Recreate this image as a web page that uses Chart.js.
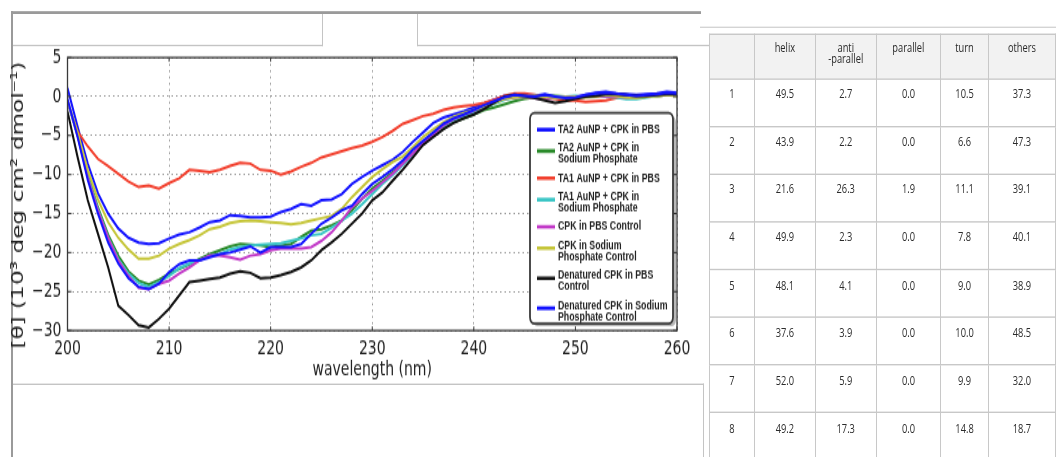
<!DOCTYPE html>
<html>
<head>
<meta charset="utf-8">
<script src="https://cdn.jsdelivr.net/npm/chart.js@4/dist/chart.umd.min.js"></script>
<style>
  html, body { margin: 0; padding: 0; background: #fff; width: 1056px; height: 457px; }
  #wrap { position: relative; width: 1056px; height: 457px; overflow: hidden; }
  /* the source picture is stretched vertically, so the page is laid out flat and scaled */
  #page { position: absolute; left: 0; top: 0; width: 1056px; height: 326.4px;
          transform: scaleY(1.4); transform-origin: 0 0; }
  .ln { position: absolute; }
  #chartBox { position: absolute; left: 0; top: 0; width: 705px; height: 274px; }
  #ss { position: absolute; left: 709px; top: 23.6px; border-collapse: collapse; table-layout: fixed;
        font: 9.3px "Open Sans", Lato, sans-serif; color: #2c2c2c; }
  #ss td { border: 1px solid #c8c8c8; text-align: center; vertical-align: top; padding: 6.5px 0 0 0;
           height: 26.6px; line-height: 8px; }
  #ss tr.hd td { background: #f2f2f2; padding-top: 5px; height: 26.1px; color: #2a2a2a; }
</style>
</head>
<body>
<div id="wrap">
<div id="page">
  <div class="ln" style="left:11px;top:8px;width:690px;height:1.5px;background:#9a9a9a"></div>
  <div class="ln" style="left:11px;top:8px;width:2px;height:330px;background:#9a9a9a"></div>
  <div class="ln" style="left:13px;top:9.5px;width:309px;height:22.6px;border-right:1px solid #c4c4c4;border-bottom:1px solid #c4c4c4"></div>
  <div class="ln" style="left:417px;top:9.5px;width:292px;height:22.6px;border-left:1px solid #c4c4c4;border-bottom:1px solid #c4c4c4"></div>
  <div class="ln" style="left:700px;top:19.3px;width:356px;height:0.8px;background:#d4d4d4"></div>
  <div class="ln" style="left:13px;top:274.3px;width:690px;height:60px;border-top:1px solid #c4c4c4;border-right:1px solid #c4c4c4"></div>
  <div id="chartBox"><canvas id="cd"></canvas></div>
  <table id="ss"></table>
</div>
</div>
<script>
const wavelength = [200,201,202,203,204,205,206,207,208,209,210,211,212,213,214,215,216,217,218,219,
  220,221,222,223,224,225,226,227,228,229,230,231,232,233,234,235,236,237,238,239,
  240,241,242,243,244,245,246,247,248,249,250,251,252,253,254,255,256,257,258,259,260];

const ta2Pbs = [1.1,-3.9,-8.6,-12.4,-15.0,-16.9,-18.1,-18.7,-18.9,-18.8,
  -18.2,-17.7,-17.4,-16.8,-16.1,-15.9,-15.2,-15.3,-15.5,-15.5,
  -15.4,-14.8,-14.4,-13.8,-14.0,-13.3,-13.2,-12.5,-11.2,-10.3,
  -9.5,-8.8,-8.1,-7.1,-5.8,-4.6,-3.4,-2.7,-2.3,-1.9,
  -1.4,-0.9,-0.4,0.1,0.1,0.0,0.1,0.3,0.0,-0.3,
  -0.2,0.2,0.5,0.6,0.4,0.3,0.2,0.3,0.4,0.6,0.5];
const ta2Na = [-0.6,-5.0,-10.0,-14.2,-17.7,-20.4,-22.4,-23.6,-24.1,-23.5,
  -22.7,-22.1,-21.5,-20.8,-20.2,-19.7,-19.2,-18.9,-19.0,-19.1,
  -19.3,-19.1,-18.9,-18.0,-17.2,-17.0,-16.5,-15.9,-14.6,-13.1,
  -11.8,-10.8,-9.7,-8.6,-7.3,-6.0,-4.9,-4.0,-3.3,-2.8,
  -2.3,-1.7,-1.4,-1.0,-0.6,-0.3,-0.1,0.0,0.1,0.0,
  -0.1,0.0,0.1,0.2,0.1,0.0,-0.1,0.0,0.1,0.2,0.2];
const ta1Pbs = [-0.8,-4.5,-6.4,-8.0,-8.9,-9.9,-10.9,-11.6,-11.4,-11.8,
  -11.1,-10.5,-9.4,-9.5,-9.7,-9.4,-8.9,-8.5,-8.6,-9.4,
  -9.5,-10.0,-9.6,-9.0,-8.5,-7.8,-7.4,-7.0,-6.6,-6.3,
  -5.8,-5.2,-4.4,-3.5,-3.0,-2.5,-2.2,-1.7,-1.4,-1.2,
  -1.1,-0.8,-0.4,0.1,0.4,0.4,0.2,-0.1,-0.3,-0.5,
  -0.5,-0.7,-0.6,-0.5,-0.2,-0.1,0.0,0.1,0.1,0.2,0.3];
const ta1Na = [-0.7,-5.1,-10.2,-14.4,-18.0,-20.8,-22.7,-23.9,-24.4,-23.8,
  -23.0,-22.0,-21.4,-21.0,-20.4,-20.2,-19.6,-19.3,-19.1,-19.0,
  -18.9,-18.8,-18.5,-18.2,-17.8,-17.6,-16.8,-15.9,-15.0,-13.8,
  -12.5,-11.2,-10.1,-8.8,-7.5,-6.0,-4.8,-3.8,-3.0,-2.5,
  -2.0,-1.4,-0.9,-0.4,-0.1,0.0,0.1,0.0,-0.1,0.0,
  0.1,0.0,0.1,0.0,-0.1,-0.3,-0.3,-0.1,0.1,0.2,0.3];
const cpkPbs = [-0.5,-5.1,-10.4,-14.6,-18.1,-21.0,-23.0,-24.5,-24.7,-24.0,
  -23.6,-22.7,-21.9,-21.0,-20.4,-20.4,-20.6,-20.9,-20.4,-20.2,
  -19.7,-19.5,-19.5,-19.5,-19.3,-18.5,-17.4,-15.9,-14.2,-13.1,
  -12.1,-11.0,-9.9,-8.6,-7.3,-6.0,-4.9,-3.7,-2.9,-2.3,
  -1.8,-1.2,-0.7,-0.3,-0.1,0.0,-0.2,-0.3,-0.2,-0.1,
  0.0,0.1,0.0,0.1,0.0,-0.1,0.0,0.1,0.2,0.3,0.2];
const cpkNa = [-0.5,-4.6,-9.4,-13.2,-16.1,-18.1,-19.6,-20.8,-20.8,-20.4,
  -19.5,-18.9,-18.4,-17.8,-17.0,-16.7,-16.2,-16.0,-15.9,-16.0,
  -16.1,-16.2,-16.4,-16.2,-15.9,-15.6,-15.3,-14.4,-12.9,-11.6,
  -10.3,-9.3,-8.4,-7.7,-6.5,-5.2,-4.2,-3.3,-2.6,-2.1,
  -1.7,-1.2,-0.8,-0.3,-0.1,0.0,-0.1,0.0,-0.2,-0.1,
  0.0,-0.1,0.0,0.2,0.1,-0.1,-0.2,0.0,0.1,0.2,0.1];
const denPbs = [-1.9,-7.8,-13.3,-17.6,-21.9,-26.8,-28.0,-29.3,-29.6,-28.5,
  -27.2,-25.5,-23.8,-23.6,-23.4,-23.2,-22.7,-22.4,-22.6,-23.3,
  -23.2,-22.9,-22.5,-21.9,-21.0,-19.7,-18.7,-17.6,-16.3,-15.0,
  -13.3,-12.3,-10.8,-9.4,-7.8,-6.2,-5.2,-4.2,-3.4,-2.8,
  -2.3,-1.6,-0.8,0.0,0.2,0.1,-0.2,-0.5,-0.8,-0.6,
  -0.3,0.0,0.1,0.3,0.3,0.2,0.1,0.1,0.2,0.3,0.3];
const denNa = [-0.3,-5.2,-10.7,-15.0,-18.7,-21.4,-23.3,-24.4,-24.7,-24.0,
  -22.5,-21.5,-21.0,-21.0,-20.6,-20.2,-20.0,-19.6,-19.2,-20.0,
  -19.3,-19.3,-19.3,-18.9,-17.6,-16.3,-15.5,-14.6,-14.0,-12.5,
  -11.2,-10.3,-9.3,-8.2,-6.8,-5.7,-4.6,-3.5,-2.8,-2.3,
  -1.7,-1.1,-0.6,-0.1,0.2,0.1,0.0,0.2,0.0,-0.2,
  -0.1,0.2,0.4,0.5,0.4,0.2,0.1,0.2,0.3,0.5,0.4];

const seriesNames = [
  ['TA2 AuNP + CPK in PBS'],
  ['TA2 AuNP + CPK in', 'Sodium Phosphate'],
  ['TA1 AuNP + CPK in PBS'],
  ['TA1 AuNP + CPK in', 'Sodium Phosphate'],
  ['CPK in PBS Control'],
  ['CPK in Sodium', 'Phosphate Control'],
  ['Denatured CPK in PBS', 'Control'],
  ['Denatured CPK in Sodium', 'Phosphate Control']
];
const seriesValues = [ta2Pbs, ta2Na, ta1Pbs, ta1Na, cpkPbs, cpkNa, denPbs, denNa];
const seriesColors = ['#1414ff', '#2a8a2a', '#f2412f', '#3cc6c6', '#c23ac8', '#c6c63a', '#111111', '#1414ff'];

const yTicks = [5, 0, -5, -10, -15, -20, -25, -30];
const xTicks = [200, 210, 220, 230, 240, 250, 260];

// table
const tableCols = ['', 'helix', 'anti<br>-parallel', 'parallel', 'turn', 'others'];
const rowLabels = ['1', '2', '3', '4', '5', '6', '7', '8'];
const helix = [49.5, 43.9, 21.6, 49.9, 48.1, 37.6, 52.0, 49.2];
const antiParallel = [2.7, 2.2, 26.3, 2.3, 4.1, 3.9, 5.9, 17.3];
const parallel = [0.0, 0.0, 1.9, 0.0, 0.0, 0.0, 0.0, 0.0];
const turn = [10.5, 6.6, 11.1, 7.8, 9.0, 10.0, 9.9, 14.8];
const others = [37.3, 47.3, 39.1, 40.1, 38.9, 48.5, 32.0, 18.7];

const colWidths = [48, 64, 63, 67, 50, 70];
let html = '<colgroup>' + colWidths.map(w => `<col style="width:${w}px">`).join('') + '</colgroup>';
html += '<tr class="hd">' + tableCols.map(c => `<td>${c}</td>`).join('') + '</tr>';
rowLabels.forEach((r, i) => {
  const cells = [r, helix[i].toFixed(1), antiParallel[i].toFixed(1), parallel[i].toFixed(1), turn[i].toFixed(1), others[i].toFixed(1)];
  html += '<tr>' + cells.map(c => `<td>${c}</td>`).join('') + '</tr>';
});
document.getElementById('ss').innerHTML = html;

// chart: axes frame with inward ticks, like the source plot
const frame = {
  id: 'frame',
  afterDatasetsDraw(chart) {
    const {ctx, chartArea: a, scales} = chart;
    ctx.save();
    ctx.strokeStyle = '#3a3a3a';
    ctx.lineWidth = 1.3;
    ctx.strokeRect(a.left, a.top, a.right - a.left, a.bottom - a.top);
    ctx.lineWidth = 1;
    ctx.beginPath();
    xTicks.forEach(v => {
      const px = scales.x.getPixelForValue(v);
      ctx.moveTo(px, a.bottom); ctx.lineTo(px, a.bottom - 3);
      ctx.moveTo(px, a.top); ctx.lineTo(px, a.top + 3);
    });
    yTicks.forEach(v => {
      const py = scales.y.getPixelForValue(v);
      ctx.moveTo(a.left, py); ctx.lineTo(a.left + 4, py);
      ctx.moveTo(a.right, py); ctx.lineTo(a.right - 4, py);
    });
    ctx.stroke();
    ctx.restore();
  }
};

function rr(ctx, x, y, w, h, r) {
  ctx.beginPath();
  ctx.moveTo(x + r, y);
  ctx.arcTo(x + w, y, x + w, y + h, r);
  ctx.arcTo(x + w, y + h, x, y + h, r);
  ctx.arcTo(x, y + h, x, y, r);
  ctx.arcTo(x, y, x + w, y, r);
  ctx.closePath();
}

const boxLegend = {
  id: 'boxLegend',
  afterDraw(chart) {
    const {ctx, chartArea: a} = chart;
    const w = 143, h = 150.5;
    const right = a.right - 4, bottom = a.bottom - 5;
    const left = right - w, top = bottom - h;
    ctx.save();
    ctx.fillStyle = 'rgba(0,0,0,0.28)';
    rr(ctx, left + 3, top + 2, w, h, 4.5);
    ctx.fill();
    ctx.fillStyle = '#fff';
    rr(ctx, left, top, w, h, 4.5);
    ctx.fill();
    ctx.save();
    ctx.clip();
    const lineH = 8.1, gap = 5.2;
    let y = top + 12;
    ctx.font = 'bold 8.8px "Liberation Sans", Arial, sans-serif';
    ctx.textBaseline = 'middle';
    seriesNames.forEach((lines, i) => {
      const sy = lines.length > 1 ? y + 2 : y;
      ctx.strokeStyle = seriesColors[i];
      ctx.lineWidth = 2.6;
      ctx.beginPath();
      ctx.moveTo(left + 7, sy);
      ctx.lineTo(left + 25, sy);
      ctx.stroke();
      ctx.fillStyle = '#222';
      lines.forEach((t, k) => ctx.fillText(t, left + 28, y + k * lineH));
      y += lines.length * lineH + gap;
    });
    ctx.restore();
    ctx.strokeStyle = '#3a3a3a';
    ctx.lineWidth = 1.8;
    rr(ctx, left, top, w, h, 4.5);
    ctx.stroke();
    ctx.restore();
  }
};

Chart.defaults.font.family = '"DejaVu Sans", sans-serif';
Chart.defaults.color = '#222';

new Chart(document.getElementById('cd'), {
  type: 'line',
  data: {
    datasets: seriesValues.map((vals, i) => ({
      label: seriesNames[i].join(' '),
      data: wavelength.map((x, k) => ({x: x, y: vals[k]})),
      borderColor: seriesColors[i],
      borderWidth: 2,
      pointRadius: 0,
      tension: 0,
      fill: false,
      order: seriesValues.length - 1 - i
    }))
  },
  options: {
    responsive: true,
    maintainAspectRatio: false,
    animation: false,
    layout: { padding: { left: 0, right: 28, top: 41.1, bottom: 0 } },
    plugins: { legend: { display: false }, tooltip: { enabled: false } },
    scales: {
      x: {
        type: 'linear', min: 200, max: 260,
        afterFit(s) { s.height = 37.9; },
        afterBuildTicks(s) { s.ticks = xTicks.map(v => ({value: v})); },
        ticks: { padding: 5, font: { size: 14 }, maxRotation: 0, autoSkip: false },
        grid: { color: '#9a9a9a', lineWidth: 1, drawTicks: false },
        border: { display: false, dash: [1.5, 3] },
        title: { display: true, text: 'wavelength (nm)', font: { size: 14 }, padding: { top: 0, bottom: 1.3 } }
      },
      y: {
        min: -30, max: 5,
        afterFit(s) { s.width = 67.5; },
        afterBuildTicks(s) { s.ticks = yTicks.map(v => ({value: v})); },
        ticks: { padding: 6, font: { size: 14 }, autoSkip: false,
                 callback: v => v < 0 ? '\u2212' + Math.abs(v) : String(v) },
        grid: { color: '#9a9a9a', lineWidth: 1, drawTicks: false },
        border: { display: false, dash: [1.5, 3] },
        // trailing spaces push the label a little lower, as in the source
        title: { display: true, text: '[θ] (10³ deg cm² dmol⁻¹)\u00a0\u00a0\u00a0', font: { size: 16.6 }, padding: { top: 9, bottom: 0 } }
      }
    }
  },
  plugins: [frame, boxLegend]
});
</script>
</body>
</html>
